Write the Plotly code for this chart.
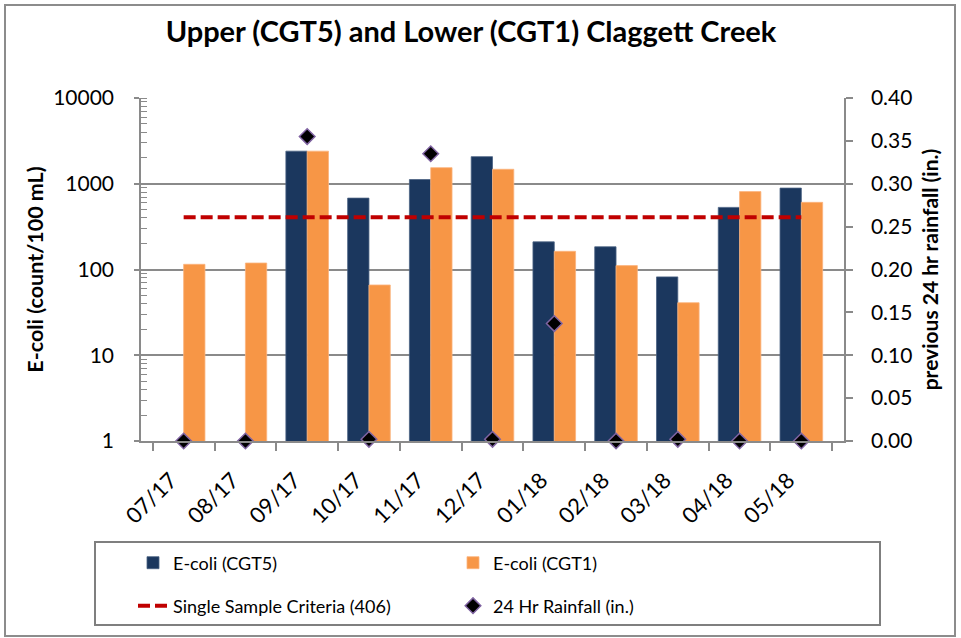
import plotly.graph_objects as go

months = ["07/17", "08/17", "09/17", "10/17", "11/17", "12/17",
          "01/18", "02/18", "03/18", "04/18", "05/18"]
ecoli_cgt5 = [None, None, 2400, 680, 1120, 2070, 210, 184, 82, 530, 890]
ecoli_cgt1 = [115, 119, 2400, 66, 1540, 1475, 163, 111, 41, 810, 607]
criteria_value = 406
rainfall = [0, 0, 0.355, 0.002, 0.335, 0.002, 0.137, 0, 0.002, 0, 0]
ecoli_ticks = [1, 10, 100, 1000, 10000]
rain_ticks = [0, 0.05, 0.10, 0.15, 0.20, 0.25, 0.30, 0.35, 0.40]

FONT = "Lato"
GRID = "#8a8a8a"
W, H = 961, 638
L, R, T, B = 141, 117, 98, 197
PW, PH = W - L - R, H - T - B


def px_to_paper_x(px):
    return (px - L) / PW


def px_to_paper_y(py):
    return (H - B - py) / PH


def legend_box(x_px, y_px):
    return dict(orientation="h", xref="container", yref="container",
                x=x_px / W, xanchor="left", y=1 - y_px / H, yanchor="middle",
                font=dict(size=18, family=FONT, color="black"),
                bgcolor="rgba(0,0,0,0)", borderwidth=0)


fig = go.Figure()
fig.add_trace(go.Bar(x=months, y=ecoli_cgt5, name="E-coli (CGT5)",
                     marker=dict(color="#1b375e", line=dict(color="#4a6283", width=0.8)),
                     legend="legend"))
fig.add_trace(go.Bar(x=months, y=ecoli_cgt1, name="E-coli (CGT1)",
                     marker=dict(color="#f79646", line=dict(color="#fbb47e", width=0.8)),
                     legend="legend2"))
fig.add_trace(go.Scatter(x=months, y=[criteria_value] * len(months),
                         name="Single Sample Criteria (" + str(criteria_value) + ")",
                         mode="lines", line=dict(color="#c00000", width=4, dash="12px,5px"),
                         legend="legend3"))
fig.add_trace(go.Scatter(x=months, y=rainfall, name="24 Hr Rainfall (in.)", yaxis="y2",
                         mode="markers", cliponaxis=False,
                         marker=dict(symbol="diamond", size=12, color="black",
                                     line=dict(color="#8064a2", width=1.5)),
                         legend="legend4"))

fig.update_layout(
    width=W, height=H,
    margin=dict(l=L, r=R, t=T, b=B, autoexpand=False),
    paper_bgcolor="white", plot_bgcolor="white",
    font=dict(family=FONT, size=21, color="black"),
    barmode="group", bargap=0.31, bargroupgap=0,
    title=dict(text="<b>Upper (CGT5) and Lower (CGT1) Claggett Creek</b>",
               font=dict(size=29, family=FONT, color="black"),
               x=471 / W, xref="container", xanchor="center",
               y=1 - 32 / H, yref="container", yanchor="middle"),
    xaxis=dict(type="category", tickangle=-45, tickson="boundaries",
               ticks="outside", ticklen=8, tickwidth=1.5, tickcolor=GRID,
               ticklabelstandoff=16, ticklabelshift=-13,
               showline=True, linecolor=GRID, linewidth=1.5,
               showgrid=False, tickfont=dict(size=22)),
    yaxis=dict(type="log", range=[0, 4], tickmode="array",
               tickvals=ecoli_ticks, ticktext=[str(v) for v in ecoli_ticks],
               ticks="outside", ticklen=5, tickwidth=1.5, tickcolor=GRID,
               ticklabelstandoff=16,
               showline=True, linecolor=GRID, linewidth=1.5,
               showgrid=True, gridcolor=GRID, gridwidth=1.5,
               minor=dict(ticks="inside", ticklen=6, tickcolor=GRID, tickwidth=1,
                          dtick="D1", showgrid=False),
               title=dict(text="<b>E-coli (count/100 mL)</b>", font=dict(size=21.5),
                          standoff=4),
               tickfont=dict(size=21)),
    yaxis2=dict(overlaying="y", side="right", range=[0, 0.40],
                tickmode="array", tickvals=rain_ticks, tickformat=".2f",
                ticks="outside", ticklen=7, tickwidth=1.5, tickcolor=GRID,
                ticklabelstandoff=14,
                showline=True, linecolor=GRID, linewidth=1.5, showgrid=False,
                zeroline=False,
                title=dict(text="<b>previous 24 hr rainfall (in.)</b>", font=dict(size=21),
                           standoff=12),
                tickfont=dict(size=21)),
    legend=legend_box(133, 563),
    legend2=legend_box(453, 563),
    legend3=legend_box(133, 606),
    legend4=legend_box(453, 606),
    showlegend=True,
)

# outer chart frame and legend frame
fig.add_shape(type="rect", xref="paper", yref="paper", layer="below",
              x0=px_to_paper_x(5), x1=px_to_paper_x(955),
              y0=px_to_paper_y(636), y1=px_to_paper_y(5),
              line=dict(color="#8c8c8c", width=2), fillcolor="rgba(0,0,0,0)")
fig.add_shape(type="rect", xref="paper", yref="paper", layer="below",
              x0=px_to_paper_x(95), x1=px_to_paper_x(880),
              y0=px_to_paper_y(625), y1=px_to_paper_y(542),
              line=dict(color="#7f7f7f", width=2), fillcolor="rgba(0,0,0,0)")

fig.write_html("out.html", config={"displayModeBar": False},
               post_script="document.body.style.margin='0';document.body.style.padding='0';")
